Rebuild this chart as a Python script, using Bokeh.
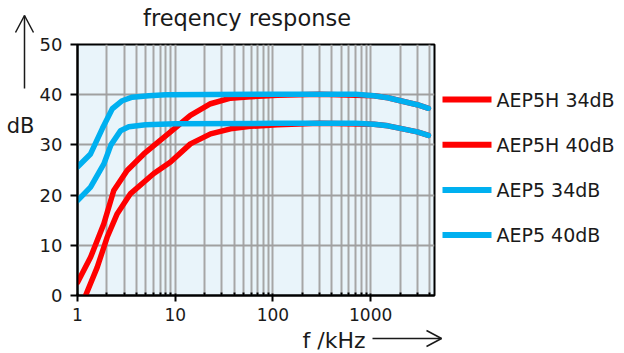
from bokeh.plotting import figure
from bokeh.models import Range1d, FixedTicker, PrintfTickFormatter
from bokeh.layouts import row, column
from bokeh.core.properties import value
from bokeh.embed import file_html
from bokeh.resources import INLINE

# ---- data ----
f_aep5_40 = [1, 1.36, 1.8, 2.27, 2.87, 3.63, 5.37, 8, 100, 700, 1080, 1500, 2010, 3000, 3900]
db_aep5_40 = [25.6, 28.2, 33.3, 37.2, 38.8, 39.5, 39.8, 40.0, 40.1, 40.1, 39.8, 39.4, 38.8, 38.0, 37.3]

f_aep5_34 = [1, 1.36, 1.86, 2.2, 2.75, 3.35, 4.97, 10, 100, 700, 1080, 1500, 2010, 3000, 3900]
db_aep5_34 = [18.9, 21.6, 26.2, 30.0, 32.8, 33.6, 34.0, 34.2, 34.3, 34.3, 34.1, 33.8, 33.3, 32.6, 31.9]

f_aep5h_40 = [1, 1.36, 1.86, 2.35, 3.22, 4.77, 8.95, 14.3, 23, 36.8, 59, 111, 300, 1080, 1500, 2010, 3000, 3900]
db_aep5h_40 = [2.6, 7.6, 14.3, 20.9, 24.9, 28.2, 32.6, 35.9, 38.2, 39.3, 39.6, 39.9, 40.1, 39.8, 39.4, 38.8, 38.0, 37.3]

f_aep5h_34 = [1.21, 1.59, 2.01, 2.55, 3.49, 6.04, 8.95, 14.3, 23, 36.8, 59, 111, 300, 1080, 1500, 2010, 3000, 3900]
db_aep5h_34 = [0, 5.6, 11.6, 16.3, 20.3, 24.3, 26.6, 30.2, 32.2, 33.2, 33.7, 34.0, 34.3, 34.1, 33.8, 33.3, 32.6, 31.9]

x_major = [1, 10, 100, 1000]
x_minor = [m * d for d in [1, 10, 100, 1000] for m in range(2, 10) if m * d <= 4500]
y_ticks = [0, 10, 20, 30, 40, 50]

legend_labels = ["AEP5H  34dB", "AEP5H  40dB", "AEP5  34dB", "AEP5  40dB"]
legend_colors = ["#ff0000", "#ff0000", "#00b0f0", "#00b0f0"]
title_text = "freqency response"
x_label = "f /kHz"
y_label = "dB"

RED = "#ff0000"
BLUE = "#00b0f0"
FONT = "DejaVu Sans"
INK = "#1a1a1a"

TOP_H = 33
MB_TOP, MB_BOTTOM = 11, 32
FRAME_H = 251
MAIN_H = MB_TOP + FRAME_H + MB_BOTTOM
BOT_H = 353 - TOP_H - MAIN_H


def blank(w, h, top=0, bottom=0, ymax=None):
    f = figure(width=w, height=h, x_range=Range1d(0, w),
               y_range=Range1d(0, ymax if ymax is not None else h),
               min_border=0, min_border_top=top, min_border_bottom=bottom,
               toolbar_location=None, output_backend="svg",
               x_axis_location=None, y_axis_location=None)
    f.grid.visible = False
    f.outline_line_color = None
    f.background_fill_color = "white"
    f.border_fill_color = "white"
    return f


# ---- main chart ----
p = figure(width=404, height=MAIN_H, x_axis_type="log",
           x_range=Range1d(1, 4500), y_range=Range1d(0, 50),
           output_backend="svg", toolbar_location=None,
           min_border_left=41, min_border_right=6, min_border_top=MB_TOP, min_border_bottom=MB_BOTTOM)

p.background_fill_color = "#e9f4fa"
p.border_fill_color = "white"
p.outline_line_color = "black"
p.outline_line_width = 2

p.xaxis.ticker = FixedTicker(ticks=x_major, minor_ticks=x_minor)
p.xaxis.formatter = PrintfTickFormatter(format="%d")
p.yaxis.ticker = FixedTicker(ticks=y_ticks)
for ax in (p.xaxis, p.yaxis):
    ax.axis_line_color = "black"
    ax.axis_line_width = 2
    ax.major_tick_line_color = "black"
    ax.major_tick_line_width = 2
    ax.major_label_text_font = FONT
    ax.major_label_text_color = INK
p.xaxis.major_label_text_font_size = "17px"
p.yaxis.major_label_text_font_size = "18px"
p.xaxis.major_tick_out = 6
p.yaxis.major_tick_out = 7
p.xaxis.major_label_standoff = 6
p.yaxis.major_label_standoff = 8
p.xaxis.major_tick_in = 2
p.xaxis.minor_tick_in = 3
p.xaxis.minor_tick_out = 0
p.xaxis.minor_tick_line_color = "black"
p.xaxis.minor_tick_line_width = 2
p.yaxis.major_tick_in = 0
p.yaxis.minor_tick_line_color = None

p.xgrid.grid_line_color = "#a6a6a6"
p.xgrid.grid_line_width = 2
p.xgrid.minor_grid_line_color = "#a6a6a6"
p.xgrid.minor_grid_line_width = 2
p.ygrid.grid_line_color = "#a0a0a0"
p.ygrid.grid_line_width = 2

lw = 5.5
for fx, dy, c in [(f_aep5h_34, db_aep5h_34, RED), (f_aep5h_40, db_aep5h_40, RED),
                  (f_aep5_34, db_aep5_34, BLUE), (f_aep5_40, db_aep5_40, BLUE)]:
    p.line(fx, dy, line_color=c, line_width=lw, line_cap="round", line_join="round")

# ---- left strip: "dB" and the upward arrow ----
left = blank(36, 353)
left.text(x=[20], y=[228], text=[y_label], text_align="center", text_baseline="middle",
          text_font=value(FONT), text_font_size="21px", text_color=INK)
ax_x, ay0, ay1 = 24, 265, 338
left.line([ax_x, ax_x], [ay0, ay1], line_color=INK, line_width=1.5)
left.line([ax_x - 9, ax_x, ax_x + 9], [ay1 - 17, ay1, ay1 - 17], line_color=INK, line_width=1.5)

# ---- top strip: title ----
top = blank(588, TOP_H)
top.text(x=[210.5], y=[TOP_H - 17], text=[title_text], text_align="center", text_baseline="middle",
         text_font=value(FONT), text_font_size="22.5px", text_color=INK)

# ---- legend strip (frame aligned with the chart frame) ----
leg = blank(184, MAIN_H, top=MB_TOP, bottom=MB_BOTTOM, ymax=FRAME_H)
y0, pitch = 196, 45.2
for i, (lab, col) in enumerate(zip(legend_labels, legend_colors)):
    yy = y0 - i * pitch
    leg.line([2, 51], [yy, yy], line_color=col, line_width=6)
    leg.text(x=[56], y=[yy], text=[lab], text_align="left", text_baseline="middle",
             text_font=value(FONT), text_font_size="19px", text_color=INK)

# ---- bottom strip: x label and the right arrow ----
bot = blank(588, BOT_H)
bot.text(x=[266], y=[BOT_H - 12.5], text=[x_label], text_align="left", text_baseline="middle",
         text_font=value(FONT), text_font_size="22px", text_color=INK)
bx0, bx1, by = 336, 405, BOT_H - 11
bot.line([bx0, bx1], [by, by], line_color=INK, line_width=1.5)
bot.line([bx1 - 15, bx1, bx1 - 15], [by + 8, by, by - 8], line_color=INK, line_width=1.5)

layout = row(left, column(top, row(p, leg), bot))

open("out.html", "w").write(file_html(layout, INLINE))
